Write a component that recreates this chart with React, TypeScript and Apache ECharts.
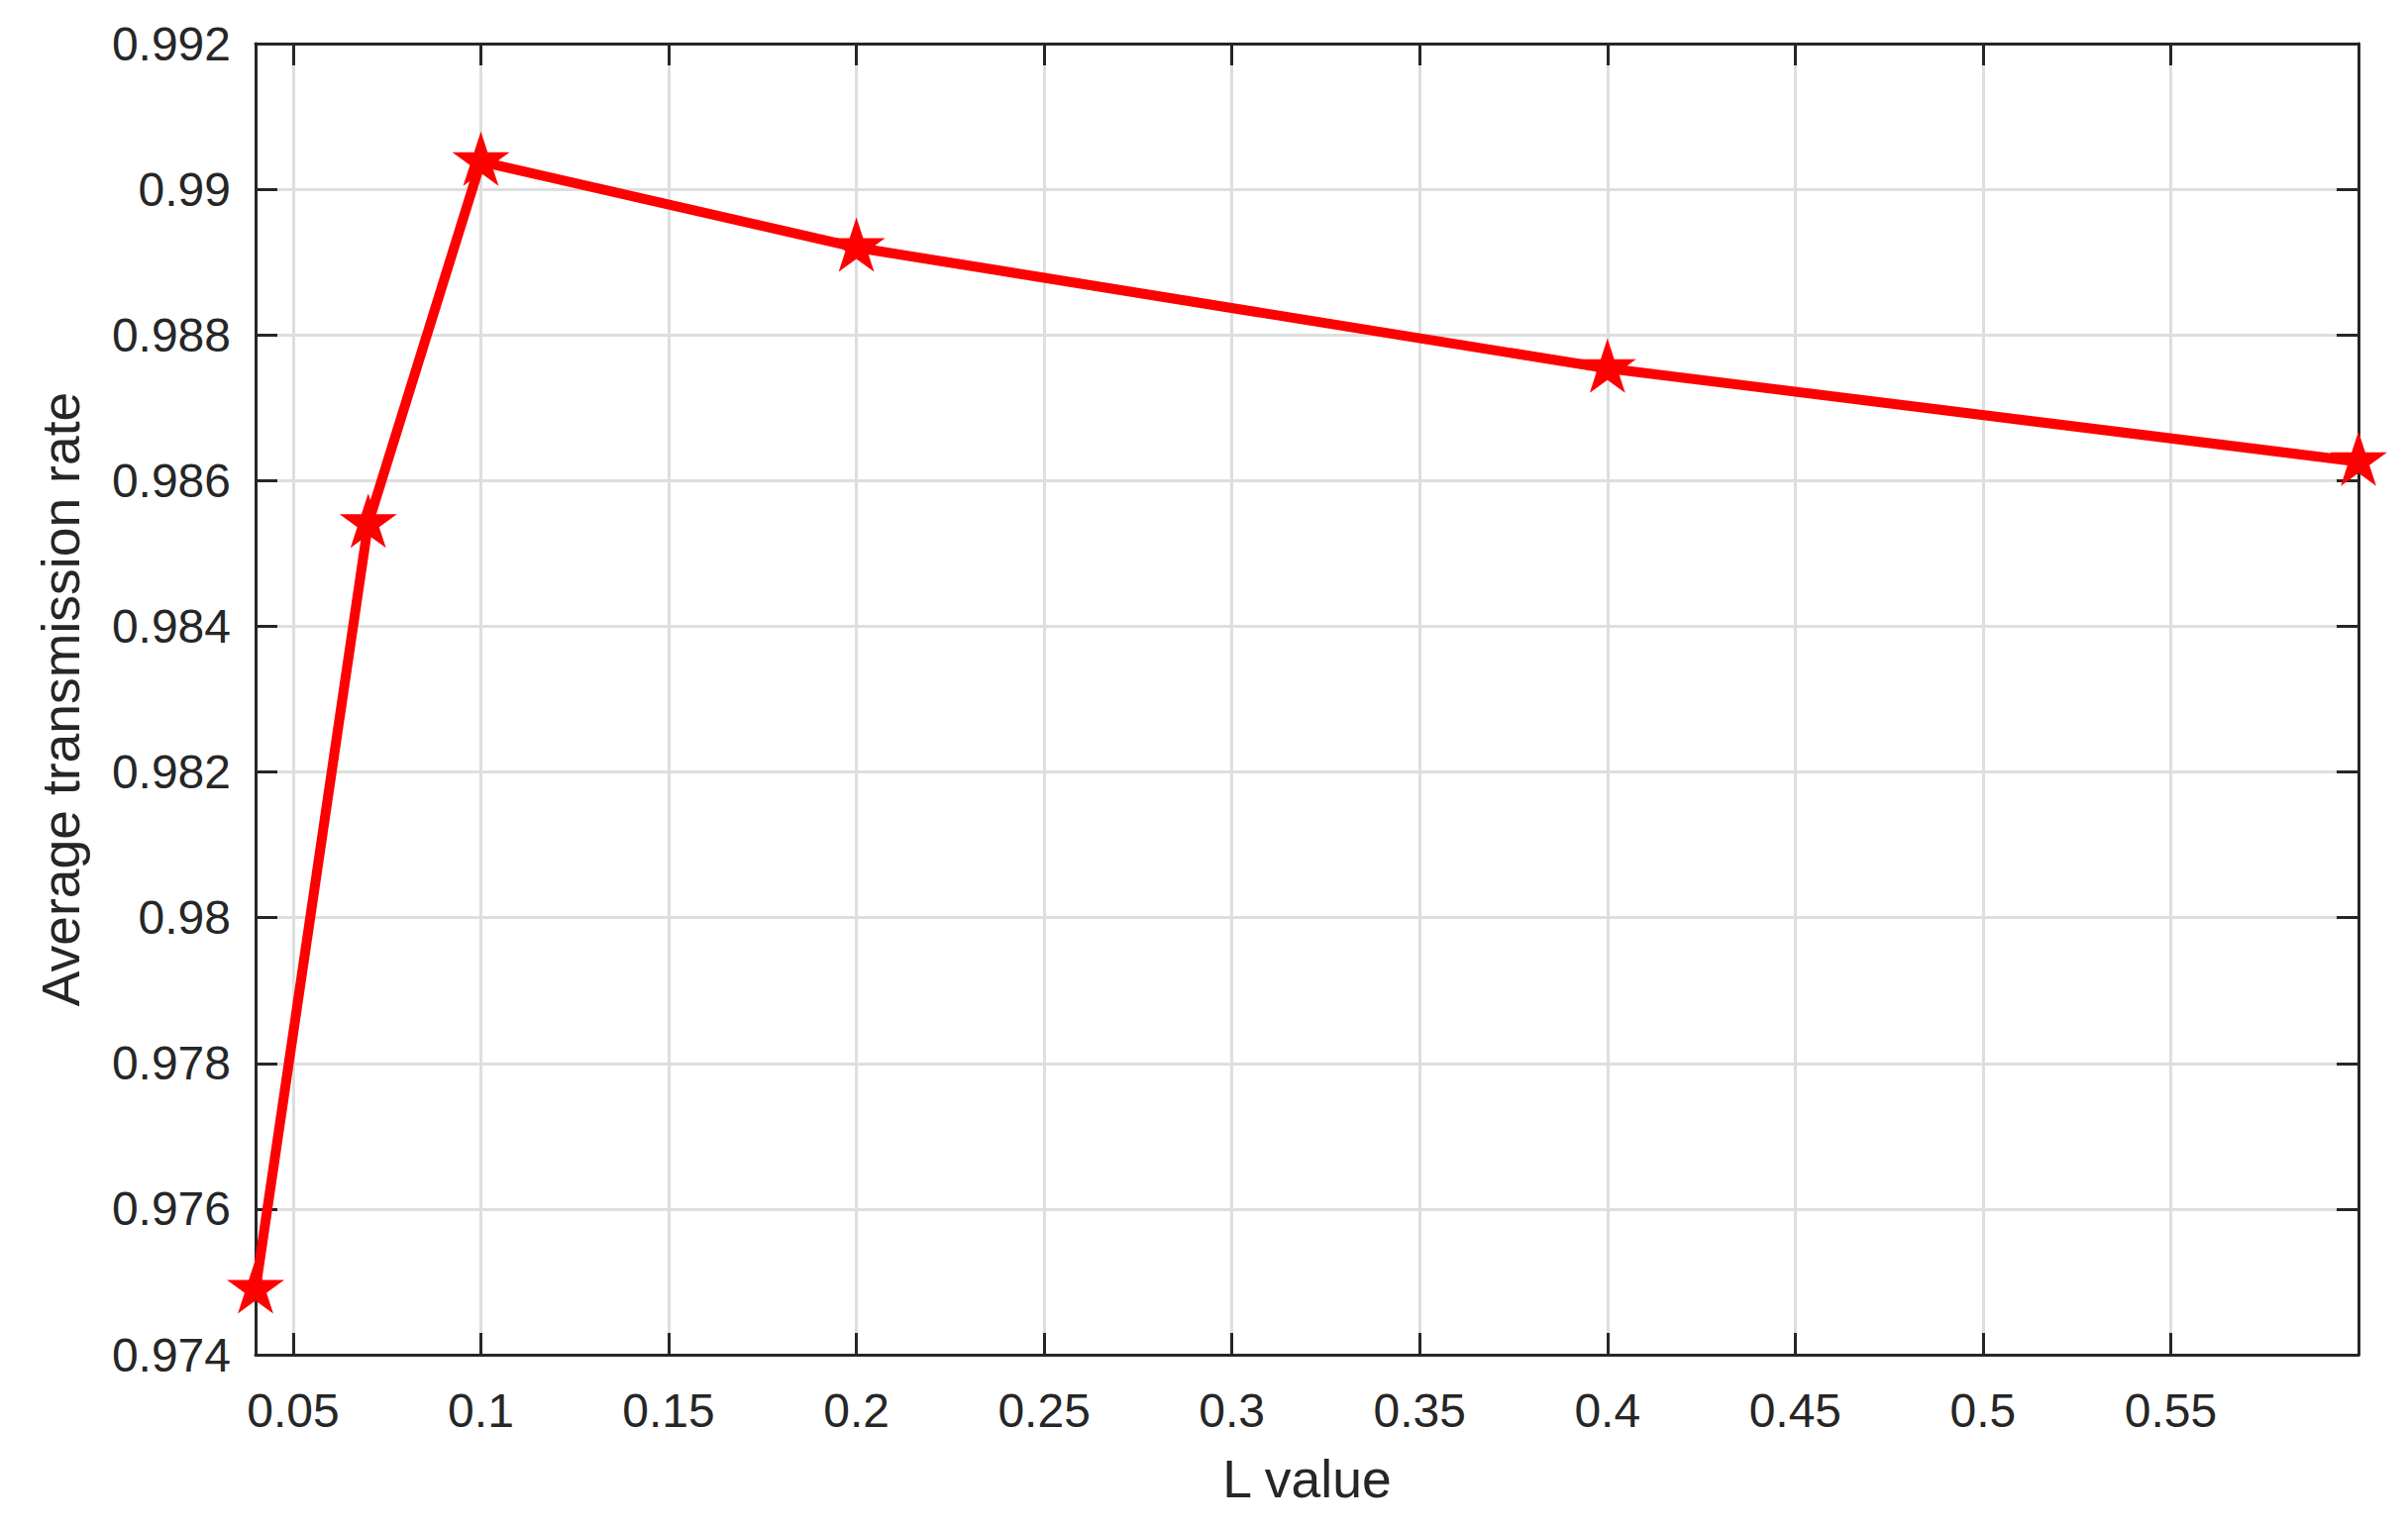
import React, { useEffect, useRef } from "react";
import * as echarts from "echarts";

const xValues = [0.04, 0.07, 0.1, 0.2, 0.4, 0.6];
const yValues = [0.9749, 0.98541, 0.99038, 0.9892, 0.98754, 0.98626];
const xTicks = [0.05, 0.1, 0.15, 0.2, 0.25, 0.3, 0.35, 0.4, 0.45, 0.5, 0.55];
const xMin = 0.04;
const xMax = 0.6;
const yMin = 0.974;
const yMax = 0.992;
const yStep = 0.002;
const xName = "L value";
const yName = "Average transmission rate";

const STAR =
  "path://M0,-100 L22.45,-30.9 L95.11,-30.9 L36.33,11.8 L58.78,80.9 L0,38.2 L-58.78,80.9 L-36.33,11.8 L-95.11,-30.9 L-22.45,-30.9 Z";

const FONT = "'Liberation Sans', Arial, Helvetica, sans-serif";
const INK = "#262626";
const GRID = "#dedede";

const fmt = (v: number) => String(parseFloat(Number(v).toFixed(3)));

export default function App() {
  const ref = useRef<HTMLDivElement>(null);
  useEffect(() => {
    if (!ref.current) return;
    const chart = echarts.init(ref.current, undefined, { renderer: "svg" });
    const axisLine = { show: true, lineStyle: { color: INK, width: 3 } };
    const tick = { show: true, inside: true, length: 22, lineStyle: { color: INK, width: 3 } };
    chart.setOption({
      animation: false,
      backgroundColor: "#ffffff",
      grid: { left: 258, right: 50, top: 44, bottom: 177, containLabel: false },
      xAxis: [
        {
          type: "value",
          min: xMin,
          max: xMax,
          position: "bottom",
          name: xName,
          nameLocation: "middle",
          nameGap: 98,
          nameTextStyle: { fontFamily: FONT, fontSize: 53.5, color: INK },
          axisLine,
          axisTick: { ...tick, customValues: xTicks },
          axisLabel: {
            customValues: xTicks,
            formatter: fmt,
            margin: 32,
            fontFamily: FONT,
            fontSize: 48,
            color: INK,
          },
          splitLine: { show: true, lineStyle: { color: GRID, width: 3 } },
        },
        {
          type: "value",
          min: xMin,
          max: xMax,
          position: "top",
          axisLine,
          axisTick: { ...tick, customValues: xTicks },
          axisLabel: { show: false, customValues: xTicks },
          splitLine: { show: false },
        },
      ],
      yAxis: [
        {
          type: "value",
          min: yMin,
          max: yMax,
          interval: yStep,
          position: "left",
          name: yName,
          nameLocation: "middle",
          nameGap: 170,
          nameTextStyle: { fontFamily: FONT, fontSize: 53.5, color: INK },
          axisLine,
          axisTick: tick,
          axisLabel: { formatter: fmt, margin: 25, fontFamily: FONT, fontSize: 48, color: INK },
          splitLine: { show: true, lineStyle: { color: GRID, width: 3 } },
        },
        {
          type: "value",
          min: yMin,
          max: yMax,
          interval: yStep,
          position: "right",
          axisLine,
          axisTick: tick,
          axisLabel: { show: false },
          splitLine: { show: false },
        },
      ],
      series: [
        {
          type: "line",
          xAxisIndex: 0,
          yAxisIndex: 0,
          data: xValues.map((x, i) => [x, yValues[i]]),
          clip: false,
          symbol: STAR,
          symbolSize: [58, 55],
          symbolOffset: [0, -2.9],
          showSymbol: true,
          lineStyle: { color: "#ff0000", width: 10 },
          itemStyle: { color: "#ff0000", borderWidth: 0 },
          z: 5,
        },
      ],
    });
    return () => chart.dispose();
  }, []);
  return (
    <div
      ref={ref}
      style={{ position: "fixed", left: 0, top: 0, width: 2431, height: 1545, background: "#fff" }}
    />
  );
}
